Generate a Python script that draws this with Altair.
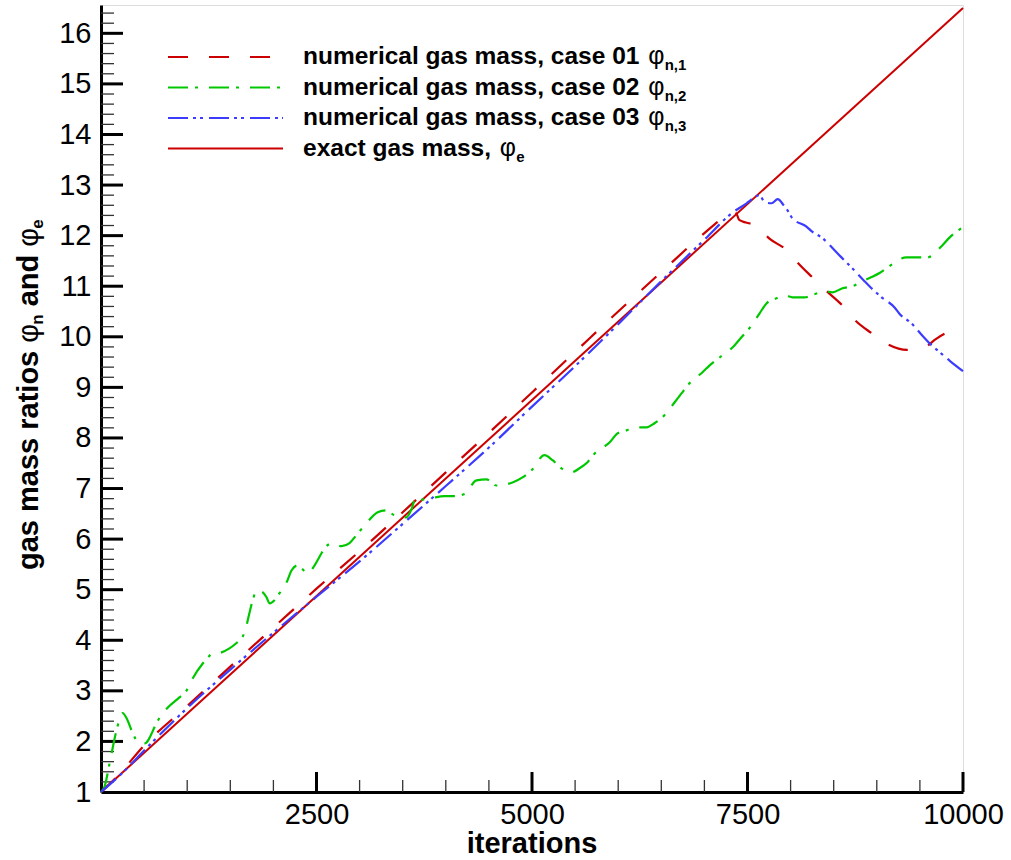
import altair as alt
import pandas as pd

# ---- data -------------------------------------------------------------
iters_exact = [0, 10000]
phi_exact = [1.0, 16.5]

iters_c1 = [0, 200, 500, 1000, 1500, 2000, 2500, 3000, 3500, 4000, 4500, 5000,
            5500, 6000, 6500, 7000, 7200, 7330, 7370, 7400, 7442, 7530, 7616,
            7755, 7950, 8080, 8250, 8420, 8600, 8740, 8940, 9120, 9350, 9580,
            9680, 9785, 9820, 9880, 10000]
phi_c1 = [1.0, 1.33, 1.92, 2.7, 3.48, 4.25, 5.02, 5.76, 6.53, 7.32, 8.1, 8.9,
          9.7, 10.5, 11.28, 12.05, 12.33, 12.46, 12.44, 12.32, 12.28, 12.24, 12.18,
          11.94, 11.72, 11.47, 11.18, 10.9, 10.62, 10.34, 10.07, 9.86, 9.74, 9.82,
          9.95, 10.06, 10.09, 10.06, 9.98]

iters_c2 = [0, 40, 100, 180, 250, 300, 354, 447, 505, 644, 680, 770, 910, 990,
            1065, 1180, 1240, 1300, 1340, 1490, 1607, 1640, 1665, 1760, 1805,
            1875, 1920, 1955, 2013, 2071, 2152, 2210, 2280, 2340, 2396, 2454,
            2558, 2593, 2686, 2790, 2883, 2963, 3057, 3210, 3300, 3428, 3544,
            3602, 3637, 3700, 3834, 3985, 4101, 4217, 4356, 4472, 4588, 4774,
            4890, 4994, 5145, 5238, 5342, 5458, 5551, 5644, 5725, 5899, 5992,
            6096, 6212, 6329, 6421, 6537, 6653, 6734, 6827, 6978, 7071, 7175,
            7349, 7430, 7523, 7639, 7720, 7837, 7930, 8022, 8161, 8277, 8393,
            8486, 8602, 8718, 8857, 8939, 9032, 9124, 9345, 9461, 9588, 9751,
            9843, 9959, 10000]
phi_c2 = [1.0, 1.1, 1.57, 2.22, 2.56, 2.45, 2.22, 1.96, 1.96, 2.36, 2.47, 2.66,
          2.87, 3.0, 3.25, 3.54, 3.66, 3.74, 3.74, 3.84, 4.0, 4.06, 4.16, 4.79,
          4.99, 4.95, 4.85, 4.73, 4.79, 4.93, 5.14, 5.38, 5.48, 5.4, 5.32, 5.42,
          5.72, 5.82, 5.92, 5.86, 5.92, 6.08, 6.27, 6.53, 6.57, 6.45, 6.43, 6.59,
          6.75, 6.77, 6.81, 6.85, 6.85, 6.89, 7.16, 7.18, 7.06, 7.12, 7.22, 7.36,
          7.66, 7.56, 7.4, 7.32, 7.4, 7.52, 7.69, 7.91, 8.09, 8.15, 8.21, 8.21,
          8.29, 8.45, 8.7, 8.88, 9.08, 9.3, 9.45, 9.59, 9.83, 9.99, 10.17, 10.46,
          10.66, 10.76, 10.82, 10.78, 10.78, 10.84, 10.9, 10.88, 10.96, 11.0,
          11.12, 11.18, 11.26, 11.37, 11.57, 11.57, 11.57, 11.79, 11.96, 12.12,
          12.16]

iters_c3 = [0, 250, 500, 1000, 1500, 2000, 2500, 3000, 3500, 4000, 4500, 5000,
            5500, 6000, 6500, 7000, 7330, 7490, 7560, 7640, 7700, 7780, 7850,
            7920, 7965, 8022, 8184, 8243, 8370, 8532, 8590, 8718, 8857, 8915,
            9056, 9206, 9265, 9400, 9530, 9612, 9727, 9850, 10000]
phi_c3 = [1.0, 1.38, 1.82, 2.66, 3.42, 4.15, 4.86, 5.56, 6.3, 7.05, 7.81, 8.62,
          9.42, 10.25, 11.1, 11.92, 12.46, 12.64, 12.73, 12.8, 12.66, 12.64, 12.72,
          12.6, 12.5, 12.34, 12.18, 12.09, 11.95, 11.67, 11.57, 11.35, 11.1, 11.0,
          10.78, 10.58, 10.45, 10.27, 10.02, 9.87, 9.7, 9.52, 9.32]

x_labels = [2500, 5000, 7500, 10000]
y_labels = list(range(1, 17))

legend_labels = ["numerical gas mass, case 01", "numerical gas mass, case 02",
                 "numerical gas mass, case 03", "exact gas mass,"]
legend_subs = ["n,1", "n,2", "n,3", "e"]

# ---- styling ------------------------------------------------------------
FONT = "Liberation Sans"
RED, GREEN, BLUE = "#cc0000", "#00c800", "#3c3cff"
DASH_C1 = [20, 21]
DASH_C2 = [20, 7, 3, 11]
DASH_C3 = [20, 5, 3, 4, 3, 6]

W, H = 862, 787
X_MAX, Y_MIN, Y_MAX = 10000, 1, 16.56

# advance widths of the bold sans face, per 1000 em
BOLD_W = {" ": 278, ",": 278, "a": 556, "c": 556, "d": 611, "e": 556, "g": 611,
          "i": 278, "l": 278, "m": 889, "n": 611, "o": 611, "r": 389, "s": 556,
          "t": 333, "u": 611, "x": 556}
for _d in "0123456789":
    BOLD_W[_d] = 556


def bold_width(s, size):
    return sum(BOLD_W[c] for c in s) * size / 1000.0


xscale = alt.Scale(domain=[0, X_MAX], nice=False, zero=False)
yscale = alt.Scale(domain=[Y_MIN, Y_MAX], nice=False, zero=False)
xaxis = alt.Axis(values=x_labels, format="d", title=None, ticks=False, tickSize=0,
                 grid=False, labelFontSize=29, labelFont=FONT, labelColor="black",
                 labelPadding=8, labelFlush=False, labelOverlap=False,
                 domainColor="black", domainWidth=3)
yaxis = alt.Axis(values=y_labels, format="d", title=None, ticks=False, tickSize=0,
                 grid=False, labelFontSize=29, labelFont=FONT, labelColor="black",
                 labelPadding=10, labelFlush=False, labelOverlap=False,
                 domainColor="black", domainWidth=3)


def curve(xs, ys, color, dash=None, width=2.2):
    df = pd.DataFrame({"iteration": xs, "phi": ys})
    kw = dict(color=color, strokeWidth=width, interpolate="monotone")
    if dash:
        kw["strokeDash"] = dash
    return alt.Chart(df).mark_line(**kw).encode(
        x=alt.X("iteration:Q", scale=xscale, axis=xaxis),
        y=alt.Y("phi:Q", scale=yscale, axis=yaxis),
    )


def text_piece(s, x, y, size, weight="bold", angle=0, align="left"):
    kw = dict(font=FONT, fontSize=size, fontWeight=weight, align=align,
              baseline="alphabetic", color="black")
    if angle:
        kw["angle"] = angle
    return alt.Chart(pd.DataFrame({"t": [s]})).mark_text(**kw).encode(
        x=alt.value(x), y=alt.value(y), text="t:N")


layers = []

# inward tick marks
x_major = [v for v in range(2500, X_MAX + 1, 2500)]
x_minor = [v for v in range(500, X_MAX, 500) if v % 2500]
y_major = list(range(2, 17))
y_minor = [round(Y_MIN + 0.2 * i, 1) for i in range(1, 78) if i % 5]

layers.append(alt.Chart(pd.DataFrame({"v": x_minor})).mark_rule(
    color="#333333", strokeWidth=1.3).encode(
    x=alt.X("v:Q", scale=xscale, axis=xaxis), y=alt.value(H), y2=alt.value(H - 12)))
layers.append(alt.Chart(pd.DataFrame({"v": x_major})).mark_rule(
    color="black", strokeWidth=3).encode(
    x=alt.X("v:Q", scale=xscale, axis=xaxis), y=alt.value(H), y2=alt.value(H - 20)))
layers.append(alt.Chart(pd.DataFrame({"v": y_minor})).mark_rule(
    color="#333333", strokeWidth=1.3).encode(
    y=alt.Y("v:Q", scale=yscale, axis=yaxis), x=alt.value(0), x2=alt.value(13)))
layers.append(alt.Chart(pd.DataFrame({"v": y_major})).mark_rule(
    color="black", strokeWidth=3).encode(
    y=alt.Y("v:Q", scale=yscale, axis=yaxis), x=alt.value(0), x2=alt.value(22)))

# curves
layers.append(curve(iters_exact, phi_exact, RED, width=2))
layers.append(curve(iters_c1, phi_c1, RED, DASH_C1))
layers.append(curve(iters_c2, phi_c2, GREEN, DASH_C2))
layers.append(curve(iters_c3, phi_c3, BLUE, DASH_C3))

# legend
leg_styles = [(RED, DASH_C1), (GREEN, DASH_C2), (BLUE, DASH_C3), (RED, None)]
LEG_X0, LEG_X1, LEG_TX = 67, 182, 202
LEG_FS, PHI_FS, SUB_FS = 24.5, 25, 15
for i, (label, sub, (col, dash)) in enumerate(zip(legend_labels, legend_subs, leg_styles)):
    row = 52 + 30.5 * i
    rkw = dict(color=col, strokeWidth=2.2)
    if dash:
        rkw["strokeDash"] = dash
    layers.append(alt.Chart(pd.DataFrame({"k": [label]})).mark_rule(**rkw).encode(
        x=alt.value(LEG_X0), x2=alt.value(LEG_X1), y=alt.value(row)))
    base = row + 7
    layers.append(text_piece(label, LEG_TX, base, LEG_FS))
    phi_x = LEG_TX + bold_width(label + " ", LEG_FS) + 2
    layers.append(text_piece("φ", phi_x, base, PHI_FS, weight="normal"))
    layers.append(text_piece(sub, phi_x + 0.66 * PHI_FS, base + 6, SUB_FS))

# y-axis title, rotated, with subscripts
TX, TY0, TFS, TSUB = -63, 565, 29, 17
parts = [("gas mass ratios ", "bold", TFS, 0), ("φ", "normal", TFS, 0),
         ("n", "bold", TSUB, 5), (" and ", "bold", TFS, 0),
         ("φ", "normal", TFS, 0), ("e", "bold", TSUB, 5)]
off = 0.0
for s, wt, fs, shift in parts:
    lead = len(s) - len(s.lstrip(" "))
    start = off + bold_width(" " * lead, fs)
    layers.append(text_piece(s.strip(), TX + shift, TY0 - start, fs, weight=wt, angle=270))
    if wt == "normal":
        off += 0.62 * fs
    else:
        off += bold_width(s, fs)

# x-axis title
layers.append(text_piece("iterations", W / 2, 848, 29, align="center"))

chart = alt.layer(*layers).properties(
    width=W, height=H,
    autosize=alt.AutoSizeParams(type="none"),
    padding={"left": 101, "top": 5, "right": 48, "bottom": 68},
).configure_view(stroke=None).configure(font=FONT)

chart.save("out.html", embed_options={"renderer": "svg", "actions": False})
